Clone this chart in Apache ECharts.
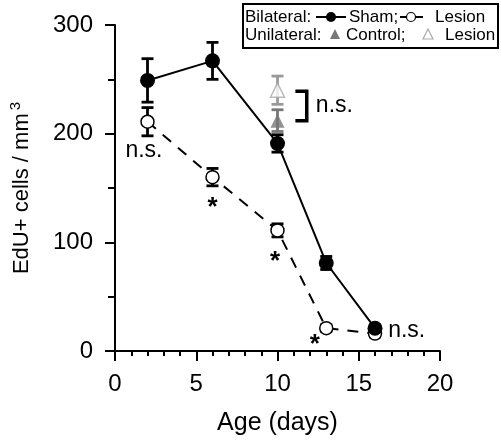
<!DOCTYPE html>
<html><head><meta charset="utf-8">
<script src="https://cdn.jsdelivr.net/npm/echarts@6/dist/echarts.min.js"></script>
<style>html,body{margin:0;padding:0;background:#fff}#c{width:501px;height:441px}</style>
</head><body><div id="c"></div>
<script>
const days = [2, 6, 10, 13, 16];
const shamMean = [249, 267, 191, 81, 21];
const shamErr = [20, 17, 8, 6, 3];
const lesionMean = [211, 160, 111, 21, 16];
const lesionErr = [13, 8, 6, 3, 3];
const uniDays = [10];
const uniControlMean = [212];
const uniControlErr = [10];
const uniLesionMean = [240];
const uniLesionErr = [13];
const xTicks = [0, 5, 10, 15, 20];
const yTicks = [0, 100, 200, 300];
const annoX = [1.78, 6.0, 9.85, 12.3, 17.95, 13.5];
const annoY = [184, 132, 82, 6, 19, 226];
const annoText = ['n.s.', '*', '*', '*', 'n.s.', 'n.s.'];
const bracketX0 = [11.1], bracketX1 = [11.8], bracketLow = [212], bracketHigh = [239];

const FONT = 'Liberation Sans';
const chart = echarts.init(document.getElementById('c'));

function errData(xs, m, e) { return xs.map((x, i) => [x, m[i] - e[i], m[i] + e[i]]); }
function errSeries(xs, m, e, color, z) {
  return {
    type: 'custom', z: z, data: errData(xs, m, e),
    renderItem: function (params, api) {
      const x = api.value(0);
      const p1 = api.coord([x, api.value(1)]);
      const p2 = api.coord([x, api.value(2)]);
      const w = 6;
      const st = { stroke: color, lineWidth: 2.8 };
      return { type: 'group', children: [
        { type: 'line', shape: { x1: p1[0], y1: p1[1], x2: p2[0], y2: p2[1] }, style: st },
        { type: 'line', shape: { x1: p1[0] - w, y1: p1[1], x2: p1[0] + w, y2: p1[1] }, style: st },
        { type: 'line', shape: { x1: p2[0] - w, y1: p2[1], x2: p2[0] + w, y2: p2[1] }, style: st }
      ]};
    }
  };
}

const LF = '17px "' + FONT + '"';
const legendG = [
  { type: 'rect', left: 242, top: 3, shape: { width: 255, height: 44 }, style: { fill: '#fff', stroke: '#000', lineWidth: 2 }, z: 100 },
  { type: 'text', left: 245, top: 9, style: { text: 'Bilateral:', font: LF, fill: '#000' }, z: 101 },
  { type: 'line', shape: { x1: 316, y1: 17, x2: 346, y2: 17 }, style: { stroke: '#000', lineWidth: 2 }, z: 101 },
  { type: 'circle', shape: { cx: 331, cy: 17, r: 5 }, style: { fill: '#000' }, z: 102 },
  { type: 'text', left: 349, top: 9, style: { text: 'Sham;', font: LF, fill: '#000' }, z: 101 },
  { type: 'line', shape: { x1: 400, y1: 17, x2: 423, y2: 17 }, style: { stroke: '#000', lineWidth: 2 }, z: 101 },
  { type: 'circle', shape: { cx: 411, cy: 17, r: 4.5 }, style: { fill: '#fff', stroke: '#000', lineWidth: 1.2 }, z: 102 },
  { type: 'text', left: 435, top: 9, style: { text: 'Lesion', font: LF, fill: '#000' }, z: 101 },
  { type: 'text', left: 245, top: 27, style: { text: 'Unilateral:', font: LF, fill: '#000' }, z: 101 },
  { type: 'polygon', shape: { points: [[335, 29], [340, 39], [330, 39]] }, style: { fill: '#777' }, z: 101 },
  { type: 'text', left: 346, top: 27, style: { text: 'Control;', font: LF, fill: '#000' }, z: 101 },
  { type: 'polygon', shape: { points: [[428, 29], [433, 39], [423, 39]] }, style: { fill: '#fff', stroke: '#aaa', lineWidth: 1.2 }, z: 101 },
  { type: 'text', left: 445, top: 27, style: { text: 'Lesion', font: LF, fill: '#000' }, z: 101 }
];

chart.setOption({
  animation: false,
  backgroundColor: '#fff',
  textStyle: { fontFamily: FONT },
  grid: { left: 115, right: 61, top: 25, bottom: 90, containLabel: false },
  xAxis: {
    type: 'value', min: xTicks[0], max: xTicks[xTicks.length - 1], interval: 5,
    name: 'Age (days)', nameLocation: 'middle', nameGap: 60,
    nameTextStyle: { fontSize: 25, color: '#000', fontFamily: FONT },
    axisLine: { onZero: false, lineStyle: { color: '#000', width: 2 } },
    axisTick: { show: true, length: 10, lineStyle: { color: '#000', width: 2 } },
    minorTick: { show: true, splitNumber: 5, length: 5, lineStyle: { color: '#000', width: 2 } },
    axisLabel: { fontSize: 24, color: '#000', margin: 21, fontFamily: FONT },
    splitLine: { show: false }
  },
  yAxis: {
    type: 'value', min: yTicks[0], max: yTicks[yTicks.length - 1], interval: 100,
    name: 'EdU+ cells / mm{sup|3}', nameLocation: 'middle', nameGap: 79,
    nameTextStyle: { fontSize: 22, color: '#000', fontFamily: FONT,
      rich: { sup: { fontSize: 15, color: '#000', fontFamily: FONT, padding: [0, 0, 13, 3] } } },
    axisLine: { show: true, onZero: false, lineStyle: { color: '#000', width: 2 } },
    axisTick: { show: true, length: 10, lineStyle: { color: '#000', width: 2 } },
    minorTick: { show: true, splitNumber: 2, length: 7, lineStyle: { color: '#000', width: 2 } },
    axisLabel: { fontSize: 24, color: '#000', margin: 22, fontFamily: FONT },
    splitLine: { show: false }
  },
  graphic: legendG,
  series: [
    errSeries(uniDays, uniLesionMean, uniLesionErr, '#999', 2),
    errSeries(uniDays, uniControlMean, uniControlErr, '#777', 2),
    errSeries(days, lesionMean, lesionErr, '#000', 3),
    errSeries(days, shamMean, shamErr, '#000', 3),
    {
      type: 'line', z: 4, data: days.map((d, i) => [d, lesionMean[i]]),
      symbol: 'circle', symbolSize: 13,
      lineStyle: { color: '#000', width: 2, type: [11, 9] },
      itemStyle: { color: '#fff', borderColor: '#000', borderWidth: 1.5 }
    },
    {
      type: 'line', z: 5, data: days.map((d, i) => [d, shamMean[i]]),
      symbol: 'circle', symbolSize: 15,
      lineStyle: { color: '#000', width: 2 },
      itemStyle: { color: '#000' }
    },
    {
      type: 'scatter', z: 4, data: uniDays.map((d, i) => [d, uniControlMean[i]]),
      symbol: 'triangle', symbolSize: 14, itemStyle: { color: '#777' }
    },
    {
      type: 'scatter', z: 4, data: uniDays.map((d, i) => [d, uniLesionMean[i]]),
      symbol: 'triangle', symbolSize: 14, itemStyle: { color: '#fff', borderColor: '#aaa', borderWidth: 1.5 }
    },
    {
      type: 'custom', z: 6, data: bracketX0.map((x, i) => [x, bracketX1[i], bracketLow[i], bracketHigh[i]]),
      renderItem: function (params, api) {
        const a = api.coord([api.value(0), api.value(3)]);
        const b = api.coord([api.value(1), api.value(2)]);
        return { type: 'polyline', shape: { points: [[a[0], a[1]], [b[0], a[1]], [b[0], b[1]], [a[0], b[1]]] },
          style: { stroke: '#000', lineWidth: 3.5, fill: null } };
      }
    },
    {
      type: 'custom', z: 7, data: annoX.map((x, i) => [x, annoY[i], i]),
      renderItem: function (params, api) {
        const p = api.coord([api.value(0), api.value(1)]);
        const t = annoText[api.value(2)];
        return { type: 'text', x: p[0], y: p[1], style: {
          text: t, fill: '#000', align: 'center', verticalAlign: 'middle',
          font: (t === '*' ? 'bold 26px "' : '23px "') + FONT + '"' } };
      }
    }
  ]
});
</script></body></html>
